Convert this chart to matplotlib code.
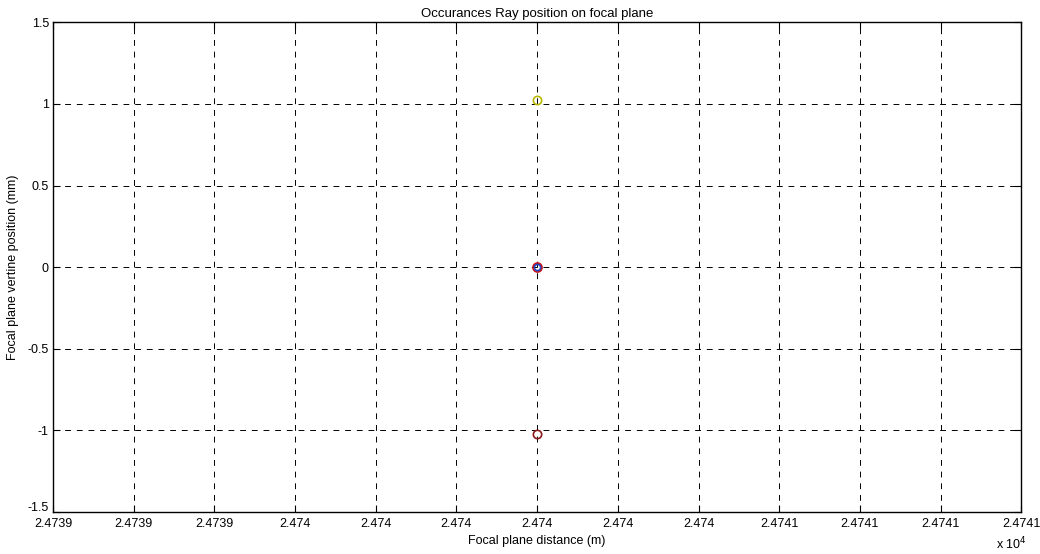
import matplotlib
matplotlib.use("Agg")
import matplotlib.pyplot as plt
import matplotlib.transforms as mtransforms

plt.rcParams['font.family'] = ['Liberation Sans', 'DejaVu Sans']

# ray positions on the focal plane (x in m, y in mm)
ray_x = [24740.0, 24740.0, 24740.0, 24740.0]
ray_y = [1.025, 0.0, 0.0, -1.02]
ray_colors = ['#b8b800', '#d01010', '#2040c0', '#8b1a1a']
ray_sizes = [6, 6.5, 4.5, 6]

x_ticks = [24739.4 + 0.1 * i for i in range(13)]
x_labels = ['2.4739', '2.4739', '2.4739', '2.474', '2.474', '2.474', '2.474',
            '2.474', '2.474', '2.4741', '2.4741', '2.4741', '2.4741']
y_ticks = [-1.5, -1, -0.5, 0, 0.5, 1, 1.5]
y_labels = ['-1.5', '-1', '-0.5', '0', '0.5', '1', '1.5']

fig = plt.figure(figsize=(10.4, 5.54), dpi=100)
ax = fig.add_axes([0.051, 0.0758, 0.931, 0.884])

for x, y, c, s in zip(ray_x, ray_y, ray_colors, ray_sizes):
    ax.plot([x], [y], 'o', markerfacecolor='none', markeredgecolor=c,
            markersize=s, markeredgewidth=1.2)

ax.set_xlim(x_ticks[0], x_ticks[-1])
ax.set_ylim(-1.5, 1.5)
ax.set_xticks(x_ticks)
ax.set_xticklabels(x_labels)
ax.set_yticks(y_ticks)
ax.set_yticklabels(y_labels)
ax.tick_params(direction='in', length=5, labelsize=9, top=True, right=True)
ax.tick_params(axis='x', pad=4)
ax.tick_params(axis='y', pad=3)
# lift the bottom y label slightly so it clears the x tick labels
lbl = ax.get_yticklabels()[0]
lbl.set_transform(lbl.get_transform() + mtransforms.ScaledTranslation(0, 4 / 72, fig.dpi_scale_trans))
ax.grid(True, color='black', linestyle=(0, (6, 6)), linewidth=0.7)
for s in ax.spines.values():
    s.set_linewidth(1.0)

ax.set_title('Occurances Ray position on focal plane', fontsize=9.5, pad=4)
ax.set_xlabel('Focal plane distance (m)', fontsize=9, labelpad=4)
ax.set_ylabel('Focal plane vertine position (mm)', fontsize=9, labelpad=6)
fig.text(0.958, 0.008, r'x 10$^{4}$', fontsize=9)

fig.savefig('out.png', dpi=100)
